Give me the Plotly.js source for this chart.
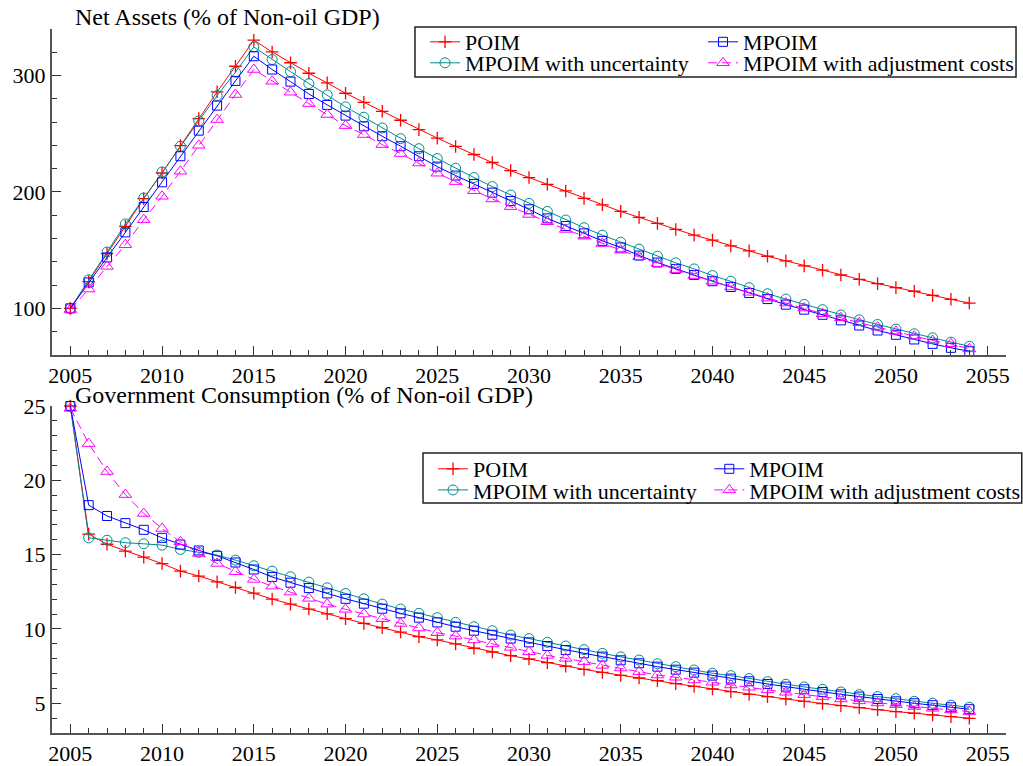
<!DOCTYPE html>
<html>
<head>
<meta charset="utf-8">
<script src="https://cdn.plot.ly/plotly-3.0.1.min.js"></script>
<style>html,body{margin:0;padding:0;background:#fff}#chart{width:1023px;height:766px}</style>
</head>
<body>
<div id="chart"></div>
<script>
const years = [2005,2006,2007,2008,2009,2010,2011,2012,2013,2014,
  2015,2016,2017,2018,2019,2020,2021,2022,2023,2024,
  2025,2026,2027,2028,2029,2030,2031,2032,2033,2034,
  2035,2036,2037,2038,2039,2040,2041,2042,2043,2044,
  2045,2046,2047,2048,2049,2050,2051,2052,2053,2054];

const seriesNames = ["POIM", "MPOIM", "MPOIM with uncertainty", "MPOIM with adjustment costs"];

const titleTop = "Net Assets (% of Non-oil GDP)";
const titleBottom = "Government Consumption (% of Non-oil GDP)";

// Net assets (% of non-oil GDP)
const naPOIM = [100,123,147,170.5,194.3,216.3,239.8,263,286,308,
  330.4,320.3,311,302,293.7,284.8,277,269.3,261.6,253.6,
  246.3,239.1,232.2,225.3,218.4,212.4,206.6,200.9,194.5,189,
  183.3,178.2,173,167.8,162.9,158.6,153.7,149.4,144.8,140.8,
  136.5,132.8,128.7,125,121.3,117.8,114.7,111.2,107.8,104.6];
const naMPOIM = [100,122.3,143.8,165.3,187.1,208.3,230.7,252.7,274.2,295.4,
  316.6,305.2,294.8,284.2,274.8,265.6,256.4,247.9,239.3,230.7,
  221.8,214.1,206.9,199.4,192.2,185.1,177.3,170.7,164.4,158.0,
  152.3,145.4,139.4,133.9,128.7,123.3,118.4,113.2,108,103.2,
  98.9,94.5,89.7,85.3,81,77.3,73.3,69.5,66.1,63.2];
const naUnc = [100,124.6,148.4,172.5,194.8,217.2,239.3,261,282.8,302.9,
  324.6,313.8,303.4,293.1,283.4,273.1,264.2,255,245.8,237.2,
  228.7,220.4,212.4,204.6,197.4,190.2,183.3,175.9,169.3,162.9,
  156.9,150.9,144.8,139.1,133.9,128.2,123.3,117.8,112.6,108,
  103.4,98.9,94.3,90.2,86.2,82.2,78.2,74.7,71,67.5];
const naAdj = [99,116.6,136.1,154.7,176.2,196.3,217.8,240.1,262.2,283.7,
  305.2,295.1,285.7,275.9,266.5,257,249.3,240.7,233,224.9,
  216.1,208.9,201.1,194,187.4,180.7,174.4,167.8,162,155.7,
  150,144.3,138.5,133.3,128.2,123.3,118.4,113.8,108.9,104.6,
  100.3,95.4,92,87.6,83.9,80.2,76.1,72.4,69.5,65.2];

// Government consumption (% of non-oil GDP)
const gcPOIM = [25,16.38,15.7,15.24,14.83,14.4,13.89,13.56,13.17,12.79,
  12.41,12.01,11.67,11.34,11.02,10.69,10.37,10.08,9.79,9.48,
  9.26,8.99,8.7,8.45,8.2,7.98,7.73,7.49,7.28,7.08,
  6.88,6.7,6.52,6.32,6.14,5.96,5.78,5.6,5.45,5.29,
  5.13,4.98,4.84,4.71,4.57,4.44,4.33,4.22,4.1,3.99];
const gcMPOIM = [25,18.33,17.6,17.12,16.67,16.13,15.68,15.28,14.92,14.47,
  14.0,13.49,13.11,12.75,12.39,12.03,11.7,11.36,11.05,10.76,
  10.44,10.15,9.88,9.61,9.35,9.1,8.85,8.58,8.36,8.14,
  7.89,7.69,7.46,7.26,7.06,6.86,6.66,6.48,6.3,6.12,
  5.94,5.76,5.6,5.45,5.29,5.13,5.0,4.87,4.73,4.6];
const gcUnc = [25,16.13,15.97,15.8,15.73,15.64,15.35,15.15,14.97,14.63,
  14.25,13.89,13.51,13.15,12.77,12.39,12.03,11.67,11.34,11.05,
  10.76,10.44,10.15,9.88,9.59,9.35,9.1,8.85,8.61,8.36,
  8.12,7.91,7.66,7.46,7.24,7.02,6.86,6.66,6.46,6.28,
  6.1,5.94,5.76,5.58,5.45,5.31,5.13,5.0,4.87,4.73];
const gcAdj = [24.84,22.47,20.59,19.04,17.77,16.76,15.86,15.08,14.41,13.85,
  13.33,12.88,12.48,12.06,11.67,11.32,11.0,10.69,10.37,10.06,
  9.75,9.52,9.26,8.99,8.76,8.47,8.22,8.02,7.8,7.55,
  7.37,7.13,6.9,6.75,6.57,6.41,6.23,6.08,5.9,5.74,
  5.58,5.45,5.29,5.16,5.02,4.91,4.78,4.66,4.55,4.44];

const FONT = "Liberation Serif";
const styles = [
  {color: '#ff0000', symbol: 'cross-thin-open', size: 9, mw: 1.3, dash: 'solid'},
  {color: '#0000ff', symbol: 'square-open', size: 9, mw: 1, dash: 'solid'},
  {color: '#008b8b', symbol: 'circle-open', size: 10, mw: 1, dash: 'solid'},
  {color: '#ff00ff', symbol: 'triangle-up-open', size: 11, mw: 1, dash: '9px,5px'}
];

function mk(y, i, xa, ya, leg) {
  const s = styles[i];
  return {
    x: years, y: y, type: 'scatter', mode: 'lines+markers', name: seriesNames[i],
    xaxis: xa, yaxis: ya, legend: leg, cliponaxis: false,
    line: {color: s.color, width: 1, dash: s.dash},
    marker: {symbol: s.symbol, size: s.size, color: s.color, line: {color: s.color, width: s.mw}}
  };
}

const data = [
  mk(naPOIM, 0, 'x', 'y', 'legend'),
  mk(naUnc, 2, 'x', 'y', 'legend2'),
  mk(naMPOIM, 1, 'x', 'y', 'legend3'),
  mk(naAdj, 3, 'x', 'y', 'legend4'),
  mk(gcPOIM, 0, 'x2', 'y2', 'legend5'),
  mk(gcUnc, 2, 'x2', 'y2', 'legend6'),
  mk(gcMPOIM, 1, 'x2', 'y2', 'legend7'),
  mk(gcAdj, 3, 'x2', 'y2', 'legend8')
];

const axisCommon = {
  showline: true, linecolor: '#555', linewidth: 2, showgrid: false, zeroline: false,
  ticks: 'inside', ticklen: 9, tickwidth: 1.3, tickcolor: '#333',
  tickfont: {family: FONT, size: 22, color: '#000'}, mirror: false
};
function xax(anchor) {
  return Object.assign({}, axisCommon, {
    anchor: anchor, range: [2004, 2056], tick0: 2005, dtick: 5,
    minor: {dtick: 1, tick0: 2005, ticks: 'inside', ticklen: 5, tickwidth: 1.3, tickcolor: '#333', showgrid: false}
  });
}
function leg(x, y) {
  return {x: x, y: y, xanchor: 'left', yanchor: 'middle', bgcolor: 'rgba(0,0,0,0)', borderwidth: 0,
    font: {family: FONT, size: 22, color: '#000'}, itemclick: false, itemdoubleclick: false};
}

const layout = {
  width: 1023, height: 766,
  margin: {l: 52, r: 17, t: 29, b: 33, autoexpand: false},
  paper_bgcolor: '#fff', plot_bgcolor: '#fff',
  font: {family: FONT, size: 22, color: '#000'},
  showlegend: true,
  xaxis: xax('y'),
  yaxis: Object.assign({}, axisCommon, {
    domain: [0.537, 1], anchor: 'x', range: [60, 340], tick0: 0, dtick: 100,
    minor: {dtick: 20, tick0: 0, ticks: 'inside', ticklen: 5, tickwidth: 1.3, tickcolor: '#333', showgrid: false}
  }),
  xaxis2: xax('y2'),
  yaxis2: Object.assign({}, axisCommon, {
    domain: [0, 0.4645], anchor: 'x2', range: [3, 25], tick0: 0, dtick: 5,
    minor: {dtick: 1, tick0: 0, ticks: 'inside', ticklen: 5, tickwidth: 1.3, tickcolor: '#333', showgrid: false}
  }),
  legend: leg(0.391, 0.9815),
  legend2: leg(0.391, 0.9517),
  legend3: leg(0.6824, 0.9815),
  legend4: leg(0.6824, 0.9517),
  legend5: leg(0.3994, 0.375),
  legend6: leg(0.3994, 0.345),
  legend7: leg(0.689, 0.375),
  legend8: leg(0.689, 0.345),
  shapes: [
    {type: 'rect', xref: 'paper', yref: 'paper', x0: 0.3805, x1: 1.0105, y0: 0.9318, y1: 1.0028,
     line: {color: '#222', width: 1.5}, fillcolor: 'rgba(0,0,0,0)'},
    {type: 'rect', xref: 'paper', yref: 'paper', x0: 0.3889, x1: 1.0165, y0: 0.3267, y1: 0.3977,
     line: {color: '#222', width: 1.5}, fillcolor: 'rgba(0,0,0,0)'}
  ],
  annotations: [
    {text: titleTop, xref: 'paper', yref: 'paper', x: 0.022, y: 1.017, xanchor: 'left', yanchor: 'middle',
     showarrow: false, font: {family: FONT, size: 24, color: '#000'}},
    {text: titleBottom, xref: 'paper', yref: 'paper', x: 0.022, y: 0.480, xanchor: 'left', yanchor: 'middle',
     showarrow: false, font: {family: FONT, size: 24, color: '#000'}}
  ]
};

Plotly.newPlot('chart', data, layout, {displayModeBar: false});
</script>
</body>
</html>
